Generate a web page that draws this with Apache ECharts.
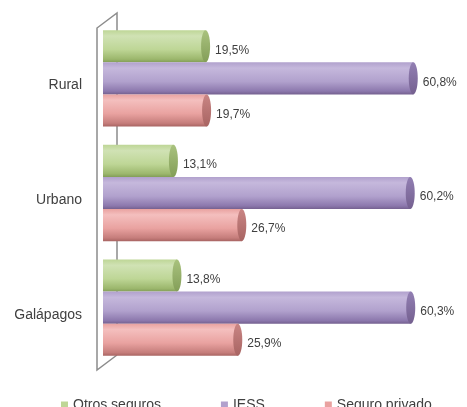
<!DOCTYPE html>
<html>
<head>
<meta charset="utf-8">
<script src="https://cdn.jsdelivr.net/npm/echarts@6/dist/echarts.min.js"></script>
<style>
  html, body { margin: 0; padding: 0; background: #fff; }
  #chart { width: 467px; height: 407px; }
</style>
</head>
<body>
<div id="chart"></div>
<script>
// datos
var categorias = ['Rural', 'Urbano', 'Galápagos'];
var otrosSeguros = [19.5, 13.1, 13.8];
var iess = [60.8, 60.2, 60.3];
var seguroPrivado = [19.7, 26.7, 25.9];

var X_MIN = -1.8;
var FONT = '"Liberation Sans", Arial, sans-serif';

function fmt(v) {
    return v.toFixed(1).replace('.', ',') + '%';
}

// cilindro horizontal: cuerpo con degradado + tapa eliptica
function cilindro(offset, c) {
    return function (params, api) {
        var cat = api.value(1);
        var v = api.value(0);
        var fin = api.coord([v, cat]);
        var ini = api.coord([X_MIN, cat]);
        var band = api.size([0, 1])[1];
        var h = band * 0.28;
        var cy = fin[1] + band * offset;
        var rx = 4.5;
        return {
            type: 'group',
            children: [
                {
                    type: 'rect',
                    shape: { x: ini[0], y: cy - h / 2, width: fin[0] - rx - ini[0], height: h },
                    style: {
                        fill: new echarts.graphic.LinearGradient(0, 0, 0, 1, [
                            { offset: 0, color: c[1] },
                            { offset: 0.18, color: c[0] },
                            { offset: 0.6, color: c[1] },
                            { offset: 0.9, color: c[2] },
                            { offset: 1, color: c[4] }
                        ])
                    }
                },
                {
                    type: 'ellipse',
                    shape: { cx: fin[0] - rx, cy: cy, rx: rx, ry: h / 2 },
                    style: {
                        fill: new echarts.graphic.LinearGradient(0, 0, 0, 1, [
                            { offset: 0, color: c[3] },
                            { offset: 1, color: c[4] }
                        ])
                    }
                },
                {
                    type: 'text',
                    style: {
                        text: fmt(v),
                        x: fin[0] + 5,
                        y: cy + 4,
                        align: 'left',
                        verticalAlign: 'middle',
                        fill: '#404040',
                        font: '12px ' + FONT
                    }
                }
            ]
        };
    };
}

var verde = ['#d0e2b4', '#bed696', '#9cb76d', '#a9c27e', '#839e58'];
var morado = ['#c5b8dc', '#b1a1cd', '#8c78ad', '#927fb3', '#74608f'];
var rojo = ['#f4bfbe', '#e9a2a0', '#c57d7b', '#c98584', '#a86462'];

function datos(arr) {
    return arr.map(function (v, i) { return [v, i]; });
}

var chart = echarts.init(document.getElementById('chart'));

chart.setOption({
    animation: false,
    grid: { left: 103, right: 3, top: 21, height: 344 },
    xAxis: {
        type: 'value',
        min: X_MIN,
        max: 70,
        show: false
    },
    yAxis: {
        type: 'category',
        data: categorias,
        inverse: true,
        axisLine: { show: false },
        axisTick: { show: false },
        axisLabel: {
            margin: 21,
            color: '#404040',
            fontSize: 14,
            fontFamily: FONT,
            verticalAlign: 'top'
        }
    },
    legend: {
        left: 56,
        top: 393,
        itemWidth: 7,
        itemHeight: 7,
        itemGap: 60,
        icon: 'rect',
        textStyle: { color: '#404040', fontSize: 14, fontFamily: FONT },
        data: ['Otros seguros', 'IESS', 'Seguro privado']
    },
    graphic: [{
        type: 'polyline',
        z: 0,
        shape: { points: [[117, 355], [97, 370], [97, 28], [117, 13], [117, 355]] },
        style: { stroke: '#8c8c8c', lineWidth: 1.5, fill: null }
    }],
    series: [
        {
            name: 'Otros seguros',
            type: 'custom',
            itemStyle: { color: verde[1] },
            renderItem: cilindro(-0.28, verde),
            encode: { x: 0, y: 1 },
            data: datos(otrosSeguros)
        },
        {
            name: 'IESS',
            type: 'custom',
            itemStyle: { color: morado[1] },
            renderItem: cilindro(0, morado),
            encode: { x: 0, y: 1 },
            data: datos(iess)
        },
        {
            name: 'Seguro privado',
            type: 'custom',
            itemStyle: { color: rojo[1] },
            renderItem: cilindro(0.28, rojo),
            encode: { x: 0, y: 1 },
            data: datos(seguroPrivado)
        }
    ]
});
</script>
</body>
</html>
